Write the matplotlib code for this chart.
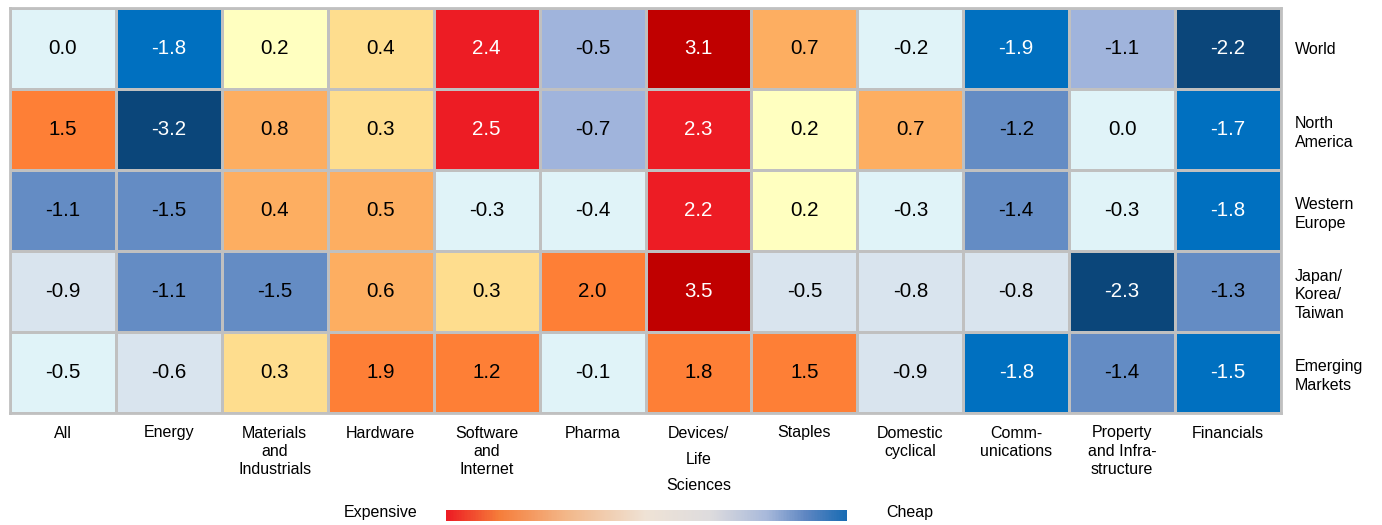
import matplotlib
matplotlib.use('Agg')
import matplotlib.pyplot as plt
import numpy as np
from matplotlib.colors import ListedColormap, LinearSegmentedColormap

plt.rcParams['font.family'] = ['Liberation Sans', 'DejaVu Sans']

# data
regions = ['World', 'North\nAmerica', 'Western\nEurope', 'Japan/\nKorea/\nTaiwan', 'Emerging\nMarkets']
sectors = ['All', 'Energy', 'Materials\nand\nIndustrials', 'Hardware', 'Software\nand\nInternet',
           'Pharma', 'Devices/\nLife\nSciences', 'Staples', 'Domestic\ncyclical', 'Comm-\nunications',
           'Property\nand Infra-\nstructure', 'Financials']

values = [
    [0.0, -1.8, 0.2, 0.4, 2.4, -0.5, 3.1, 0.7, -0.2, -1.9, -1.1, -2.2],
    [1.5, -3.2, 0.8, 0.3, 2.5, -0.7, 2.3, 0.2, 0.7, -1.2, 0.0, -1.7],
    [-1.1, -1.5, 0.4, 0.5, -0.3, -0.4, 2.2, 0.2, -0.3, -1.4, -0.3, -1.8],
    [-0.9, -1.1, -1.5, 0.6, 0.3, 2.0, 3.5, -0.5, -0.8, -0.8, -2.3, -1.3],
    [-0.5, -0.6, 0.3, 1.9, 1.2, -0.1, 1.8, 1.5, -0.9, -1.8, -1.4, -1.5],
]

# colour bucket of each cell (0 = most expensive, 11 = cheapest)
levels = [
    [6, 10, 5, 4, 1, 8, 0, 3, 6, 10, 8, 11],
    [2, 11, 3, 4, 1, 8, 1, 5, 3, 9, 6, 10],
    [9, 9, 3, 3, 6, 6, 1, 5, 6, 9, 6, 10],
    [7, 9, 9, 3, 4, 2, 0, 7, 7, 7, 11, 9],
    [6, 7, 4, 2, 2, 6, 2, 2, 7, 10, 9, 10],
]

palette = ['#c00000', '#ed1c24', '#fe7f36', '#fdae61', '#fedd8e', '#ffffc0',
           '#e0f3f8', '#d9e4ee', '#a0b4dc', '#648cc4', '#0070c0', '#0b467a']
white_text = {0, 1, 10, 11}

values = np.array(values)
levels = np.array(levels)

W, H = 1382, 525
fig = plt.figure(figsize=(W / 100, H / 100), dpi=100)
ax = fig.add_axes([10 / W, 1 - 413 / H, 1271 / W, 405 / H])

cmap = ListedColormap(palette)
ax.pcolormesh(levels, cmap=cmap, vmin=-0.5, vmax=len(palette) - 0.5,
              edgecolors='#c0c0c0', linewidth=2)
ax.set_xlim(0, len(sectors))
ax.set_ylim(len(regions), 0)

for i in range(len(regions)):
    for j in range(len(sectors)):
        c = 'white' if levels[i, j] in white_text else 'black'
        ax.text(j + 0.5, i + 0.5, f'{values[i, j]:.1f}', ha='center', va='center',
                fontsize=14.8, color=c)

for s in ax.spines.values():
    s.set_color('#c0c0c0')
    s.set_linewidth(2)

ax.set_xticks(np.arange(len(sectors)) + 0.5)
ax.set_xticklabels(sectors, fontsize=11.5, linespacing=1.27, va='top')
ax.set_yticks(np.arange(len(regions)) + 0.5)
ax.yaxis.tick_right()
ax.set_yticklabels(regions, fontsize=11.5, ha='left', linespacing=1.3)
ax.tick_params(axis='x', length=0, pad=9)
ax.tick_params(axis='y', length=0, pad=10)
ax.get_xticklabels()[6].set_linespacing(1.95)

# legend gradient
cax = fig.add_axes([446 / W, 1 - 521 / H, 401 / W, 11 / H])
grad = LinearSegmentedColormap.from_list('g', [
    (0.0, '#ed1c24'), (0.13, '#f67d3a'), (0.3, '#f3b88a'), (0.5, '#efe3d6'),
    (0.66, '#dedcde'), (0.8, '#a9badb'), (0.9, '#5e86c2'), (1.0, '#1a6cb4')])
cax.imshow(np.linspace(0, 1, 400)[None, :], aspect='auto', cmap=grad)
cax.axis('off')
fig.text(381 / W, 1 - 512 / H, 'Expensive', ha='center', va='center', fontsize=11.5)
fig.text(910 / W, 1 - 512 / H, 'Cheap', ha='center', va='center', fontsize=11.5)

fig.savefig('out.png', dpi=100)
